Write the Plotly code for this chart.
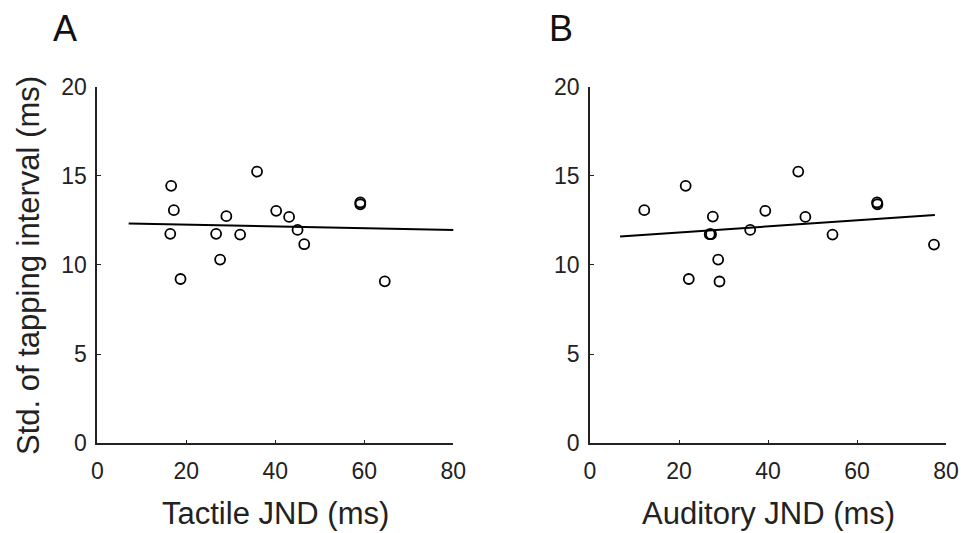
import plotly.graph_objects as go

# Panel A: tactile JND vs tapping interval std
tactile_jnd = [16.6, 17.2, 16.4, 18.7, 26.7, 27.6, 29.0, 32.1, 35.9, 40.2, 43.1, 45.0, 46.5, 59.1, 59.1, 64.6]
tactile_std = [14.43, 13.07, 11.74, 9.21, 11.74, 10.30, 12.73, 11.70, 15.23, 13.03, 12.69, 11.96, 11.16, 13.50, 13.40, 9.08]
tactile_fit_x = [7.05, 80.2]
tactile_fit_y = [12.32, 11.95]

# Panel B: auditory JND vs tapping interval std
auditory_jnd = [12.2, 21.5, 27.6, 26.9, 27.2, 22.2, 28.8, 29.1, 36.0, 39.4, 46.8, 48.4, 54.5, 64.5, 64.6, 77.3]
auditory_std = [13.07, 14.43, 12.71, 11.72, 11.72, 9.21, 10.30, 9.07, 11.96, 13.03, 15.23, 12.69, 11.70, 13.50, 13.40, 11.14]
auditory_fit_x = [6.76, 77.5]
auditory_fit_y = [11.59, 12.80]

x_ticks = [0, 20, 40, 60, 80]
y_ticks = [0, 5, 10, 15, 20]
panel_labels = ["A", "B"]
x_titles = ["Tactile JND (ms)", "Auditory JND (ms)"]
y_title = "Std. of tapping interval (ms)"

W, H = 964, 533
FONT = "Liberation Sans, Arial, sans-serif"

fig = go.Figure()
marker = dict(symbol="circle-open", size=10, color="black", line=dict(width=1.8, color="black"))

fig.add_trace(go.Scatter(x=tactile_jnd, y=tactile_std, mode="markers", marker=marker,
                         xaxis="x", yaxis="y", showlegend=False, cliponaxis=False))
fig.add_trace(go.Scatter(x=tactile_fit_x, y=tactile_fit_y, mode="lines",
                         line=dict(color="black", width=2), xaxis="x", yaxis="y", showlegend=False))
fig.add_trace(go.Scatter(x=auditory_jnd, y=auditory_std, mode="markers", marker=marker,
                         xaxis="x2", yaxis="y2", showlegend=False, cliponaxis=False))
fig.add_trace(go.Scatter(x=auditory_fit_x, y=auditory_fit_y, mode="lines",
                         line=dict(color="black", width=2), xaxis="x2", yaxis="y2", showlegend=False))

y_dom = [1 - 443.3 / H, 1 - 86.5 / H]
xa_dom = [97.3 / W, 453.3 / W]
xb_dom = [590 / W, 946 / W]

axis_common = dict(showgrid=False, zeroline=False, showline=True, linecolor="#222", linewidth=1.6,
                   ticks="inside", ticklen=4, tickwidth=1.2, tickcolor="#222",
                   tickfont=dict(family=FONT, size=23, color="#222"), automargin=False)

fig.update_layout(
    width=W, height=H,
    margin=dict(l=0, r=0, t=0, b=0),
    paper_bgcolor="white", plot_bgcolor="white",
    xaxis=dict(domain=xa_dom, range=[0, 80], tickvals=x_ticks, anchor="y", ticklabelstandoff=6, **axis_common),
    yaxis=dict(domain=y_dom, range=[0, 20], tickvals=y_ticks, anchor="x", ticklabelstandoff=4, **axis_common),
    xaxis2=dict(domain=xb_dom, range=[0, 80], tickvals=x_ticks, anchor="y2", ticklabelstandoff=6, **axis_common),
    yaxis2=dict(domain=y_dom, range=[0, 20], tickvals=y_ticks, anchor="x2", ticklabelstandoff=4, **axis_common),
)

annotations = []
# panel letters
for lbl, cx in zip(panel_labels, [64.5, 561]):
    annotations.append(dict(text=lbl, x=cx / W, y=1 - 29 / H, xref="paper", yref="paper",
                            xanchor="center", yanchor="middle", showarrow=False,
                            font=dict(family=FONT, size=36, color="#111")))
# x titles
for t, dom in zip(x_titles, [xa_dom, xb_dom]):
    annotations.append(dict(text=t, x=(dom[0] + dom[1]) / 2, y=1 - 513 / H, xref="paper", yref="paper",
                            xanchor="center", yanchor="middle", showarrow=False,
                            font=dict(family=FONT, size=31, color="#222")))
# y title
annotations.append(dict(text=y_title, x=28 / W, y=1 - 266 / H, xref="paper", yref="paper",
                        xanchor="center", yanchor="middle", showarrow=False, textangle=-90,
                        font=dict(family=FONT, size=31, color="#222")))
fig.update_layout(annotations=annotations)

fig.write_html("out.html", config={"displayModeBar": False},
               post_script="document.body.style.margin='0';document.body.style.overflow='hidden';")
